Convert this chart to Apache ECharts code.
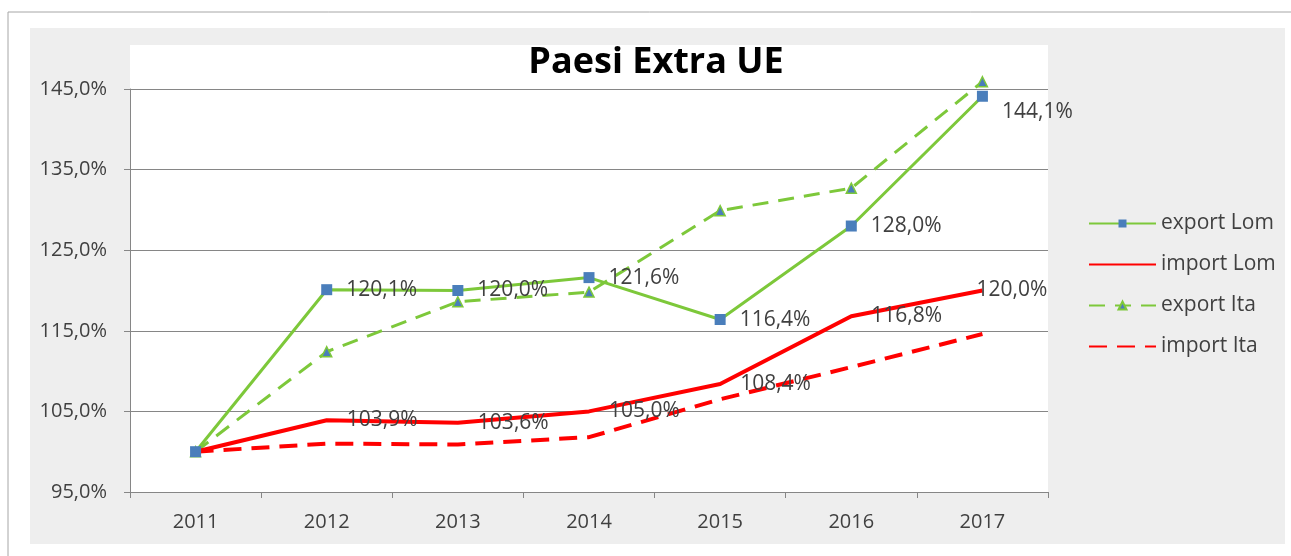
<!DOCTYPE html>
<html><head><meta charset="utf-8">
<script src="https://cdn.jsdelivr.net/npm/echarts@6/dist/echarts.min.js"></script>
<style>html,body{margin:0;padding:0;background:#fff}#c{width:1291px;height:556px}</style>
</head><body><div id="c"></div>
<script>
const years = ['2011','2012','2013','2014','2015','2016','2017'];
const exportLom = [100, 120.1, 120.0, 121.6, 116.4, 128.0, 144.1];
const importLom = [100, 103.9, 103.6, 105.0, 108.4, 116.8, 120.0];
const exportIta = [100, 112.4, 118.6, 119.8, 129.9, 132.7, 145.9];
const importIta = [100, 101.0, 100.9, 101.8, 106.5, 110.5, 114.6];
const yTicks = [95, 105, 115, 125, 135, 145];

const FONT = '"Open Sans", "Liberation Sans", sans-serif';
const fmt = v => v.toFixed(1).replace('.', ',') + '%';
const chart = echarts.init(document.getElementById('c'), null, {renderer: 'canvas'});

const lbl = {show: true, position: 'right', distance: 14, color: '#404040', fontSize: 21, fontFamily: FONT,
  formatter: p => p.dataIndex === 0 ? '' : fmt(p.value)};

chart.setOption({
  backgroundColor: '#ffffff',
  animation: false,
  graphic: [
    {type: 'rect', z: -10, shape: {x: 30, y: 28, width: 1255, height: 516}, style: {fill: '#eeeeee'}},
    {type: 'rect', z: -9, shape: {x: 130, y: 45, width: 918, height: 447}, style: {fill: '#ffffff'}},
    {type: 'line', z: -8, shape: {x1: 8, y1: 12, x2: 1291, y2: 12}, style: {stroke: '#a6a6a6', lineWidth: 1}},
    {type: 'line', z: -8, shape: {x1: 8, y1: 12, x2: 8, y2: 556}, style: {stroke: '#a6a6a6', lineWidth: 1}}
  ],
  title: {text: 'Paesi Extra UE', left: 651, top: 40, textAlign: 'center',
    textStyle: {fontFamily: FONT, fontWeight: 'bold', fontSize: 36, color: '#000'}},
  legend: {orient: 'vertical', left: 1083, top: 208, itemWidth: 67, itemHeight: 10, itemGap: 20,
    textStyle: {fontFamily: FONT, fontSize: 21, color: '#404040'},
    data: [
      {name: 'export Lom'},
      {name: 'import Lom', itemStyle: {opacity: 0}},
      {name: 'export Ita'},
      {name: 'import Ita', itemStyle: {opacity: 0}}
    ]},
  grid: {left: 130, right: 243, top: 89, bottom: 64, containLabel: false},
  xAxis: {type: 'category', data: years, boundaryGap: true,
    axisLine: {lineStyle: {color: '#868686', width: 1}},
    axisTick: {show: true, length: 6, lineStyle: {color: '#868686'}},
    axisLabel: {color: '#404040', fontSize: 20, fontFamily: FONT, margin: 20}},
  yAxis: {type: 'value', min: yTicks[0], max: yTicks[yTicks.length - 1], interval: 10,
    axisLine: {show: true, lineStyle: {color: '#868686'}},
    axisTick: {show: true, length: 6, lineStyle: {color: '#868686'}},
    splitLine: {lineStyle: {color: '#868686', width: 1}},
    axisLabel: {color: '#404040', fontSize: 20, fontFamily: FONT, margin: 23, formatter: v => fmt(v)}},
  series: [
    {name: 'export Lom', type: 'line', data: exportLom, clip: false, z: 4,
      symbol: 'rect', symbolSize: 11, itemStyle: {color: '#4a7ebb'},
      lineStyle: {color: '#7dc83a', width: 3},
      label: Object.assign({}, lbl),
      labelLayout: p => p.dataIndex === 6 ? {dy: 16} : {}},
    {name: 'import Lom', type: 'line', data: importLom, clip: false, z: 3,
      symbol: 'circle', symbolSize: 0, showSymbol: true, itemStyle: {color: '#ff0000'},
      lineStyle: {color: '#ff0000', width: 4},
      label: Object.assign({}, lbl, {distance: 20}),
      labelLayout: p => p.dataIndex === 6 ? {dx: -26} : {}},
    {name: 'export Ita', type: 'line', data: exportIta, clip: false, z: 2,
      symbol: 'triangle', symbolSize: 10, itemStyle: {color: '#4a7ebb', borderColor: '#7dc83a', borderWidth: 1.5},
      lineStyle: {color: '#7dc83a', width: 3, type: [16, 10]}},
    {name: 'import Ita', type: 'line', data: importIta, clip: false, z: 1,
      symbol: 'none', itemStyle: {color: '#ff0000'},
      lineStyle: {color: '#ff0000', width: 4, type: [18, 10]}}
  ]
});
</script></body></html>
